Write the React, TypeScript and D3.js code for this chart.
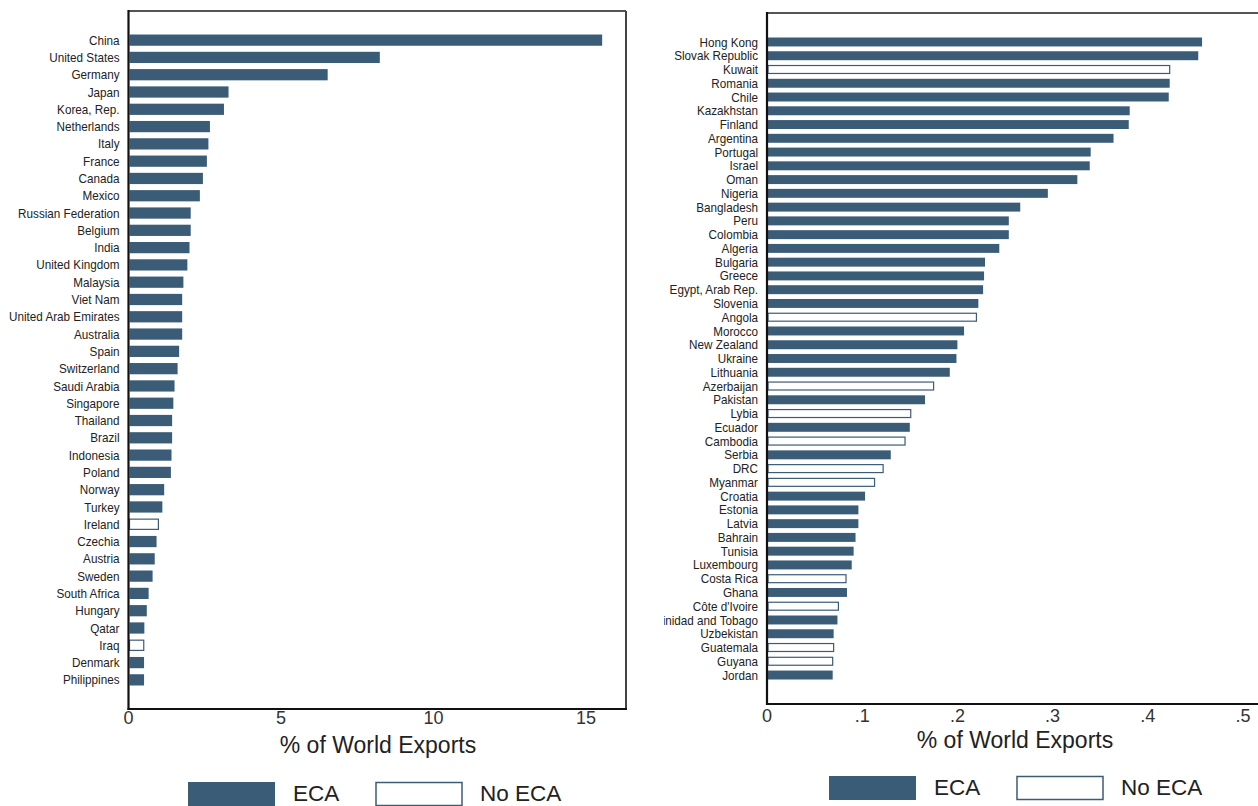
import React from "react";
import * as d3 from "d3";

// left panel: largest exporters
const leftCountries = [
  "China", "United States", "Germany", "Japan", "Korea, Rep.", "Netherlands", "Italy", "France",
  "Canada", "Mexico", "Russian Federation", "Belgium", "India", "United Kingdom", "Malaysia",
  "Viet Nam", "United Arab Emirates", "Australia", "Spain", "Switzerland", "Saudi Arabia",
  "Singapore", "Thailand", "Brazil", "Indonesia", "Poland", "Norway", "Turkey", "Ireland",
  "Czechia", "Austria", "Sweden", "South Africa", "Hungary", "Qatar", "Iraq", "Denmark", "Philippines",
];
const leftValues = [
  15.53, 8.24, 6.53, 3.28, 3.13, 2.67, 2.62, 2.57, 2.44, 2.34, 2.04, 2.04, 2.0, 1.93, 1.8,
  1.76, 1.76, 1.76, 1.66, 1.61, 1.51, 1.47, 1.43, 1.43, 1.41, 1.39, 1.17, 1.11, 0.98,
  0.92, 0.86, 0.79, 0.66, 0.6, 0.52, 0.5, 0.51, 0.51,
];
const leftNoEca = ["Ireland", "Iraq"];
const leftTicks = [0, 5, 10, 15];

// right panel: smaller exporters
const rightCountries = [
  "Hong Kong", "Slovak Republic", "Kuwait", "Romania", "Chile", "Kazakhstan", "Finland", "Argentina",
  "Portugal", "Israel", "Oman", "Nigeria", "Bangladesh", "Peru", "Colombia", "Algeria", "Bulgaria",
  "Greece", "Egypt, Arab Rep.", "Slovenia", "Angola", "Morocco", "New Zealand", "Ukraine", "Lithuania",
  "Azerbaijan", "Pakistan", "Lybia", "Ecuador", "Cambodia", "Serbia", "DRC", "Myanmar", "Croatia",
  "Estonia", "Latvia", "Bahrain", "Tunisia", "Luxembourg", "Costa Rica", "Ghana", "Côte d'Ivoire",
  "Trinidad and Tobago", "Uzbekistan", "Guatemala", "Guyana", "Jordan",
];
const rightValues = [
  0.457, 0.453, 0.423, 0.423, 0.422, 0.381, 0.38, 0.364, 0.34, 0.339, 0.326, 0.295, 0.266, 0.254,
  0.254, 0.244, 0.229, 0.228, 0.227, 0.222, 0.22, 0.207, 0.2, 0.199, 0.192, 0.175, 0.166, 0.151,
  0.15, 0.145, 0.13, 0.122, 0.113, 0.103, 0.096, 0.096, 0.093, 0.091, 0.089, 0.083, 0.084, 0.075,
  0.074, 0.07, 0.07, 0.069, 0.069,
];
const rightNoEca = [
  "Kuwait", "Angola", "Azerbaijan", "Lybia", "Cambodia", "DRC", "Myanmar", "Costa Rica",
  "Côte d'Ivoire", "Guatemala", "Guyana",
];
const rightTicks = [0, 0.1, 0.2, 0.3, 0.4, 0.5];

const BAR = "#3b5c77";
const font = "'Liberation Sans', Arial, sans-serif";

interface PanelProps {
  countries: string[];
  values: number[];
  noEca: string[];
  ticks: number[];
  tickFmt: (d: number) => string;
  x0: number;
  xTickRef: number; // pixel position of the last tick
  frameRight: number;
  top: number;
  bottom: number;
  padOuter: number;
  clipLeft: number;
  titleX: number;
  titleY: number;
  tickY: number;
  legendX: number;
  legendY: number;
  id: string;
  rightBorder: boolean;
}

function Panel(p: PanelProps) {
  const lastTick = p.ticks[p.ticks.length - 1];
  const x = d3.scaleLinear().domain([0, lastTick]).range([p.x0, p.xTickRef]);
  const y = d3
    .scaleBand<string>()
    .domain(p.countries)
    .range([p.top, p.bottom])
    .paddingInner(0.35)
    .paddingOuter(p.padOuter);

  return (
    <g>
      <defs>
        <clipPath id={p.id}>
          <rect x={p.clipLeft} y={0} width={1258} height={806} />
        </clipPath>
      </defs>
      <g clipPath={`url(#${p.id})`}>
        {p.countries.map((c, i) => {
          const hollow = p.noEca.includes(c);
          const yy = y(c) as number;
          return (
            <g key={c}>
              <rect
                x={x(0) + 1}
                y={yy + (hollow ? 0.5 : 0)}
                width={x(p.values[i]) - x(0) - 1}
                height={y.bandwidth() - (hollow ? 1 : 0)}
                fill={hollow ? "#fff" : BAR}
                stroke={hollow ? BAR : "none"}
                strokeWidth={1.2}
              />
              {/* condensed label: squeeze horizontally */}
              <text
                transform={`translate(${p.x0 - 9},${yy + y.bandwidth() / 2}) scale(0.9,1)`}
                dy="0.35em"
                textAnchor="end"
                fontFamily={font}
                fontSize={13}
                fill="#222"
              >
                {c}
              </text>
            </g>
          );
        })}
        {/* frame */}
        <line x1={p.x0} x2={p.frameRight} y1={p.top} y2={p.top} stroke="#555" strokeWidth={2} />
        {p.rightBorder && (
          <line x1={p.frameRight} x2={p.frameRight} y1={p.top} y2={p.bottom} stroke="#444" strokeWidth={2} />
        )}
        <line x1={p.x0} x2={p.x0} y1={p.top - 1} y2={p.bottom + 1} stroke="#111" strokeWidth={2.2} />
        <line x1={p.x0 - 1} x2={p.frameRight + 1} y1={p.bottom} y2={p.bottom} stroke="#111" strokeWidth={2.2} />
      </g>
      {p.ticks.map((t) => (
        <text
          key={t}
          x={x(t)}
          y={p.tickY}
          textAnchor="middle"
          dy="0.35em"
          fontFamily={font}
          fontSize={18}
          fill="#333"
        >
          {p.tickFmt(t)}
        </text>
      ))}
      <text x={p.titleX} y={p.titleY} dy="0.35em" textAnchor="middle" fontFamily={font} fontSize={23} fill="#222">
        % of World Exports
      </text>
      <g transform={`translate(${p.legendX},${p.legendY})`}>
        <rect x={0} y={0} width={87} height={24} fill={BAR} />
        <text x={105} y={11} dy="0.35em" fontFamily={font} fontSize={22.5} fill="#222">
          ECA
        </text>
        <rect x={188} y={0.5} width={86} height={23} fill="#fff" stroke={BAR} strokeWidth={1.5} />
        <text x={292} y={11} dy="0.35em" fontFamily={font} fontSize={22.5} fill="#222">
          No ECA
        </text>
      </g>
    </g>
  );
}

export default function App() {
  return (
    <svg
      width={1258}
      height={806}
      style={{ position: "absolute", left: 0, top: 0, background: "#fff" }}
    >
      <rect width={1258} height={806} fill="#fff" />
      <Panel
        id="clipL"
        countries={leftCountries}
        values={leftValues}
        noEca={leftNoEca}
        ticks={leftTicks}
        tickFmt={(d) => String(d)}
        x0={128.5}
        xTickRef={586}
        frameRight={626}
        top={11}
        bottom={709}
        padOuter={1.36}
        clipLeft={0}
        titleX={378}
        titleY={745}
        tickY={718}
        legendX={188}
        legendY={782}
        rightBorder={true}
      />
      <Panel
        id="clipR"
        countries={rightCountries}
        values={rightValues}
        noEca={rightNoEca}
        ticks={rightTicks}
        tickFmt={(d) => (d === 0 ? "0" : d3.format(".1f")(d).replace(/^0/, ""))}
        x0={767}
        xTickRef={1243}
        frameRight={1262}
        top={13}
        bottom={704}
        padOuter={1.78}
        clipLeft={664}
        titleX={1015}
        titleY={740}
        tickY={716}
        legendX={829}
        legendY={776}
        rightBorder={false}
      />
    </svg>
  );
}
